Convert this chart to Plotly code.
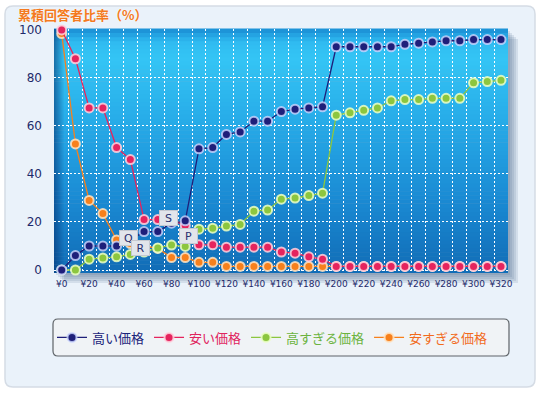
import plotly.graph_objects as go

# ---- data ----
prices = [0, 10, 20, 30, 40, 50, 60, 70, 80, 90, 100, 110, 120, 130, 140, 150, 160,
          170, 180, 190, 200, 210, 220, 230, 240, 250, 260, 270, 280, 290, 300, 310, 320]
tick_vals = [0, 20, 40, 60, 80, 100, 120, 140, 160, 180, 200, 220, 240, 260, 280, 300, 320]
tick_text = ["¥0", "¥20", "¥40", "¥60", "¥80", "¥100", "¥120", "¥140", "¥160", "¥180",
             "¥200", "¥220", "¥240", "¥260", "¥280", "¥300", "¥320"]

high_price = [0, 6, 10, 10, 10, 12.5, 16, 16, 19.5, 20.5, 50.5, 51, 56.5, 57.5, 62, 62, 66,
              67, 67.5, 68, 93, 93, 93, 93, 93, 94, 94.5, 95, 95.5, 95.5, 96, 96, 96]
cheap_price = [100, 88, 67.5, 67.5, 51, 46, 21, 21, 21, 18.5, 10.5, 10.5, 9.5, 9.5, 9.5, 9.5, 7.5,
               7, 5.5, 4.5, 1.5, 1.5, 1.5, 1.5, 1.5, 1.5, 1.5, 1.5, 1.5, 1.5, 1.5, 1.5, 1.5]
too_high = [0, 0, 4.5, 5, 5.5, 6.5, 7.5, 9.2, 10.4, 9.8, 17, 17.4, 18.3, 19, 24.5, 25, 29.5,
            30, 31, 32, 64.5, 65.5, 66.5, 67.5, 70.5, 71, 71, 71.5, 71.5, 71.5, 78, 78.5, 79]
too_cheap = [98.5, 52.5, 29, 23.5, 12.5, 11, 10, 9, 5.2, 5.2, 3.2, 3.2, 1.5, 1.5, 1.5, 1.5, 1.5,
             1.5, 1.5, 1.5, 1.5, 1.5, 1.5, 1.5, 1.5, 1.5, 1.5, 1.5, 1.5, 1.5, 1.5, 1.5, 1.5]

point_labels = ["P", "Q", "R", "S"]
label_x = [92.5, 48.5, 57.5, 78]
label_y = [14, 13.5, 9.2, 21.5]

# ---- geometry of the canvas (pixels) ----
W, H = 540, 400
L, R, T, B = 54, 32, 29, 127
PW, PH = W - L - R, H - T - B


def px_x(px):
    return (px - L) / PW


def px_y(py):
    return (T + PH - py) / PH


# Rounded rectangle as a svg path in paper units
def rounded_rect(x0, y0, x1, y1, r):
    pts = [("M", x0 + r, y0), ("L", x1 - r, y0), ("Q", x1, y0, x1, y0 + r), ("L", x1, y1 - r),
           ("Q", x1, y1, x1 - r, y1), ("L", x0 + r, y1), ("Q", x0, y1, x0, y1 - r),
           ("L", x0, y0 + r), ("Q", x0, y0, x0 + r, y0)]
    path = ""
    for p in pts:
        cmd, vals = p[0], p[1:]
        coords = []
        for i in range(0, len(vals), 2):
            coords.append(f"{px_x(vals[i]):.5f},{px_y(vals[i + 1]):.5f}")
        path += cmd + " " + " ".join(coords) + " "
    return path + "Z"


def mix(c1, c2, t):
    a = [int(c1[i:i + 2], 16) for i in (1, 3, 5)]
    b = [int(c2[i:i + 2], 16) for i in (1, 3, 5)]
    return "#" + "".join(f"{round(a[k] + (b[k] - a[k]) * t):02x}" for k in range(3))


# Blue gradient background of the plot area (bottom -> top)
def background_shapes():
    stops = [(0.0, "#116cb6"), (0.3, "#1a8ad3"), (0.6, "#26a9e7"), (0.88, "#34c5f5"),
             (0.95, "#2fbaf0"), (1.0, "#1a8cd3")]
    shapes = []
    n = 60
    for i in range(n):
        f = (i + 0.5) / n
        for (f0, c0), (f1, c1) in zip(stops[:-1], stops[1:]):
            if f0 <= f <= f1:
                col = mix(c0, c1, (f - f0) / (f1 - f0))
                break
        shapes.append(dict(type="rect", xref="x domain", yref="y domain", x0=0, x1=1,
                           y0=i / n, y1=(i + 1) / n + 0.002, fillcolor=col, line_width=0,
                           layer="below"))
    # darker left edge
    for i in range(10):
        shapes.append(dict(type="rect", xref="x domain", yref="y domain", x0=i / PW,
                           x1=(i + 1) / PW, y0=0, y1=1, fillcolor="#062f6e",
                           opacity=0.55 * (1 - i / 10), line_width=0, layer="below"))
    return shapes


def frame_shapes():
    shapes = [
        # outer panel
        dict(type="path", xref="paper", yref="paper", path=rounded_rect(5, 6, 535, 387, 8),
             fillcolor="#eaf2fa", line=dict(color="#d5dce5", width=1.5), layer="below"),
    ]
    # soft shadow to the right / bottom of the plot
    for d in [2, 4, 6, 8, 10]:
        shapes.append(dict(type="rect", xref="paper", yref="paper",
                           x0=px_x(L + d), x1=px_x(L + PW + d), y0=px_y(T + PH + d), y1=px_y(T + d),
                           fillcolor="#3e5f80", opacity=0.13, line_width=0, layer="below"))
    # legend box
    shapes.append(dict(type="path", xref="paper", yref="paper", path=rounded_rect(53, 319, 509, 356, 5),
                       fillcolor="#f0f3f6", line=dict(color="#5e6368", width=1.2), layer="below"))
    return shapes


def series_trace(name, values, color, ring, text_color):
    return go.Scatter(
        x=prices, y=values, mode="lines+markers",
        name=f"<span style='color:{text_color}'>{name}</span>",
        line=dict(color=color, width=1.3),
        marker=dict(size=9, color=color, line=dict(color=ring, width=2)),
        cliponaxis=False,
    )


fig = go.Figure()
# drawn back to front, legend reversed
fig.add_trace(series_trace("安すぎる価格", too_cheap, "#f7801c", "rgba(255,228,196,0.85)", "#f26b1d"))
fig.add_trace(series_trace("高すぎる価格", too_high, "#8cc63f", "rgba(236,255,200,0.85)", "#6cb33f"))
fig.add_trace(series_trace("安い価格", cheap_price, "#e5245e", "rgba(255,210,222,0.85)", "#e0245e"))
fig.add_trace(series_trace("高い価格", high_price, "#1e1f7a", "rgba(205,215,255,0.8)", "#1b237a"))

annotations = [
    dict(text="累積回答者比率（%）", xref="paper", yref="paper", x=px_x(16), y=px_y(14),
         xanchor="left", yanchor="middle", showarrow=False,
         font=dict(family="Noto Sans CJK JP", size=13, color="#f47a20", weight="bold",
                   shadow="0px 0px 2px white")),
]
for lab, lx, ly in zip(point_labels, label_x, label_y):
    annotations.append(dict(text=lab, x=lx, y=ly, showarrow=False, width=15, height=12,
                            bgcolor="#e2e5eb", bordercolor="#c4c8d0", borderwidth=1, borderpad=1,
                            font=dict(family="DejaVu Sans", size=11, color="#2b3070")))

fig.update_layout(
    width=W, height=H,
    margin=dict(l=L, r=R, t=T, b=B),
    paper_bgcolor="white",
    plot_bgcolor="#1f98dc",
    showlegend=True,
    legend=dict(orientation="h", x=px_x(52), xanchor="left", y=px_y(337.5), yanchor="middle",
                bgcolor="rgba(0,0,0,0)", borderwidth=0, traceorder="reversed", itemwidth=30,
                font=dict(family="Noto Sans CJK JP", size=13, color="#1b237a")),
    shapes=frame_shapes() + background_shapes(),
    annotations=annotations,
    xaxis=dict(range=[-5.6, 325.1], tickmode="array", tickvals=tick_vals, ticktext=tick_text,
               showgrid=False, zeroline=False, showline=False, ticks="", ticklabelstandoff=4,
               tickfont=dict(family="DejaVu Sans", size=9, color="#1e2a6a"),
               minor=dict(tick0=5, dtick=10, showgrid=True, gridcolor="white", griddash="2px,2px",
                          gridwidth=1, ticks="")),
    yaxis=dict(range=[-1.25, 100.4], tickmode="array", tickvals=[0, 20, 40, 60, 80, 100],
               showgrid=True, gridcolor="white", griddash="2px,2px", gridwidth=1,
               zeroline=False, showline=False, ticks="", ticklabelstandoff=11,
               tickfont=dict(family="DejaVu Sans", size=12, color="#1e2a6a")),
)

# page body has a default 8px margin; drop it so the chart sits at the window corner
fig.write_html("out.html", config={"displayModeBar": False},
               post_script="document.body.style.margin='0';")
